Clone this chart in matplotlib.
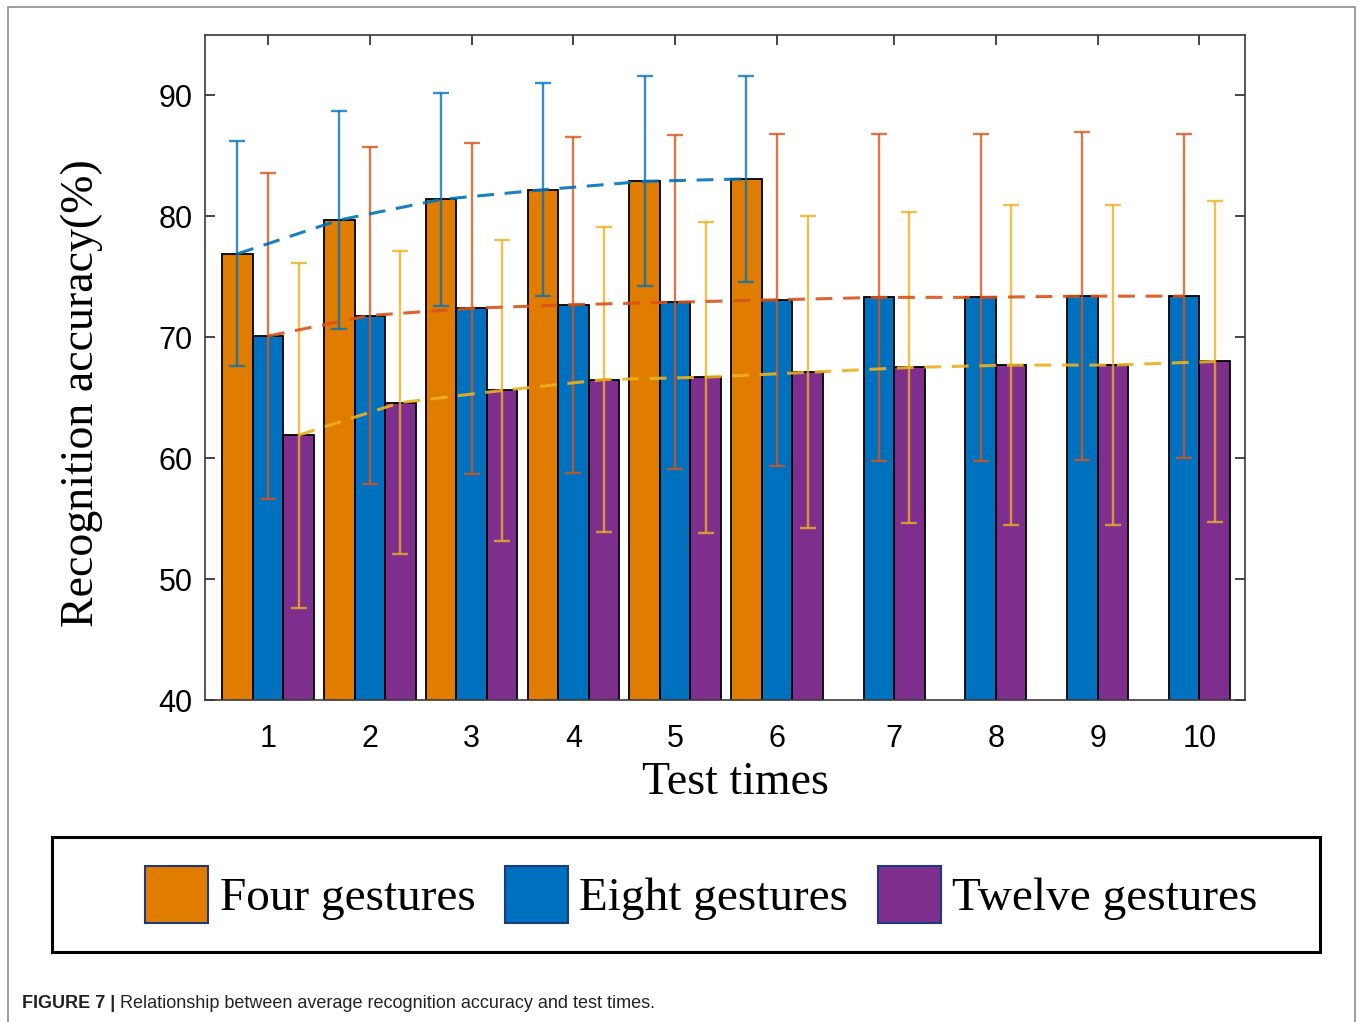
import numpy as np
import matplotlib.pyplot as plt
from matplotlib.patches import Patch, Rectangle

# Test runs (x axis)
tests = [1, 2, 3, 4, 5, 6, 7, 8, 9, 10]
tick_labels = ['1', '2', '3', '4', '5', '6', '7', '8', '9', '10']

# Average recognition accuracy (%) and error bar half-widths
four_mean = [76.9, 79.7, 81.4, 82.2, 82.9, 83.1]
four_err = [9.3, 9.0, 8.8, 8.8, 8.7, 8.5]

eight_mean = [70.1, 71.8, 72.4, 72.7, 72.9, 73.1, 73.3, 73.3, 73.4, 73.4]
eight_err = [13.5, 13.9, 13.7, 13.9, 13.8, 13.75, 13.5, 13.5, 13.55, 13.4]

twelve_mean = [61.9, 64.6, 65.6, 66.5, 66.7, 67.1, 67.5, 67.7, 67.7, 68.0]
twelve_err = [14.25, 12.5, 12.45, 12.6, 12.85, 12.9, 12.85, 13.2, 13.25, 13.25]

labels = ['Four gestures', 'Eight gestures', 'Twelve gestures']

# colours
bar_colors = ['#E07C00', '#0071BE', '#7E2F8E']
line_colors = ['#0072BD', '#D95319', '#EDB120']

plt.rcParams['font.family'] = 'Liberation Sans'

fig = plt.figure(figsize=(13.6, 10.22), dpi=100)
ax = fig.add_axes([205 / 1360, 322 / 1022, 1040 / 1360, 665 / 1022])

x = np.array(tests, dtype=float)
w = 0.3
n4 = len(four_mean)

groups = [
    (x[:n4] - w, four_mean, four_err),
    (x, eight_mean, eight_err),
    (x + w, twelve_mean, twelve_err),
]

for i, (xs, m, e) in enumerate(groups):
    ax.bar(xs, m, w, color=bar_colors[i], edgecolor='black', linewidth=1.3, zorder=2)
for i, (xs, m, e) in enumerate(groups):
    ax.errorbar(xs, m, yerr=e, fmt='none', ecolor=line_colors[i], elinewidth=1.7,
                capsize=5.5, capthick=1.7, alpha=0.8, zorder=3)
for i, (xs, m, e) in enumerate(groups):
    ax.plot(xs, m, linestyle=(0, (5.5, 3.5)), color=line_colors[i], lw=2.2,
            alpha=0.9, zorder=4)

# ticks: groups with three bars centre on the middle bar, the rest between the two bars
tick_pos = [xi if k < n4 else xi + w / 2 for k, xi in enumerate(x)]
ax.set_xticks(tick_pos)
ax.set_xticklabels(tick_labels)
ax.set_xlim(0.381, 10.597)
ax.set_ylim(40, 95)
ax.set_yticks([40, 50, 60, 70, 80, 90])

ax.tick_params(axis='both', direction='in', length=7, width=1.2, top=True,
               right=True, labelsize=22, colors='#262626', labelcolor='black')
ax.tick_params(axis='x', pad=17)
ax.tick_params(axis='y', pad=9)
for s in ax.spines.values():
    s.set_linewidth(1.2)
    s.set_color('#3a3a3a')

ax.set_xlabel('Test times', family='Liberation Serif', fontsize=33)
ax.xaxis.set_label_coords(0.51, -0.093)
ax.set_ylabel('Recognition accuracy(%)', family='Liberation Serif', fontsize=33)
ax.yaxis.set_label_coords(-0.098, 0.461)

# legend in its own framed box below the plot
ax_leg = fig.add_axes([52 / 1360, (1022 - 952) / 1022, 1268 / 1360, 115 / 1022])
ax_leg.set_xticks([])
ax_leg.set_yticks([])
for s in ax_leg.spines.values():
    s.set_linewidth(2.2)
    s.set_color('black')
handles = [Patch(facecolor=c, edgecolor='#1f3a7a', linewidth=1.5) for c in bar_colors]
ax_leg.legend(handles, labels, loc='center', bbox_to_anchor=((701.5 - 52) / 1268, 0.5),
              ncol=3, frameon=False, prop={'family': 'Liberation Serif', 'size': 34},
              handlelength=1.33, handleheight=1.5, handletextpad=0.25,
              columnspacing=0.62, borderpad=0)

# outer frame and caption
fig.add_artist(Rectangle((8 / 1360, -0.05), (1355 - 8) / 1360, (1022 - 7) / 1022 + 0.05,
                         transform=fig.transFigure, fill=False,
                         edgecolor='#8c8c8c', linewidth=1.2))
t1 = fig.text(22 / 1360, 1 - 1003 / 1022, 'FIGURE 7 |', fontsize=13,
              fontweight='bold', va='center', color='#222222')
ax.annotate(' Relationship between average recognition accuracy and test times.',
            xy=(1, 0.5), xycoords=t1, va='center', ha='left', fontsize=13,
            color='#222222')

fig.savefig('out.png', dpi=100)
